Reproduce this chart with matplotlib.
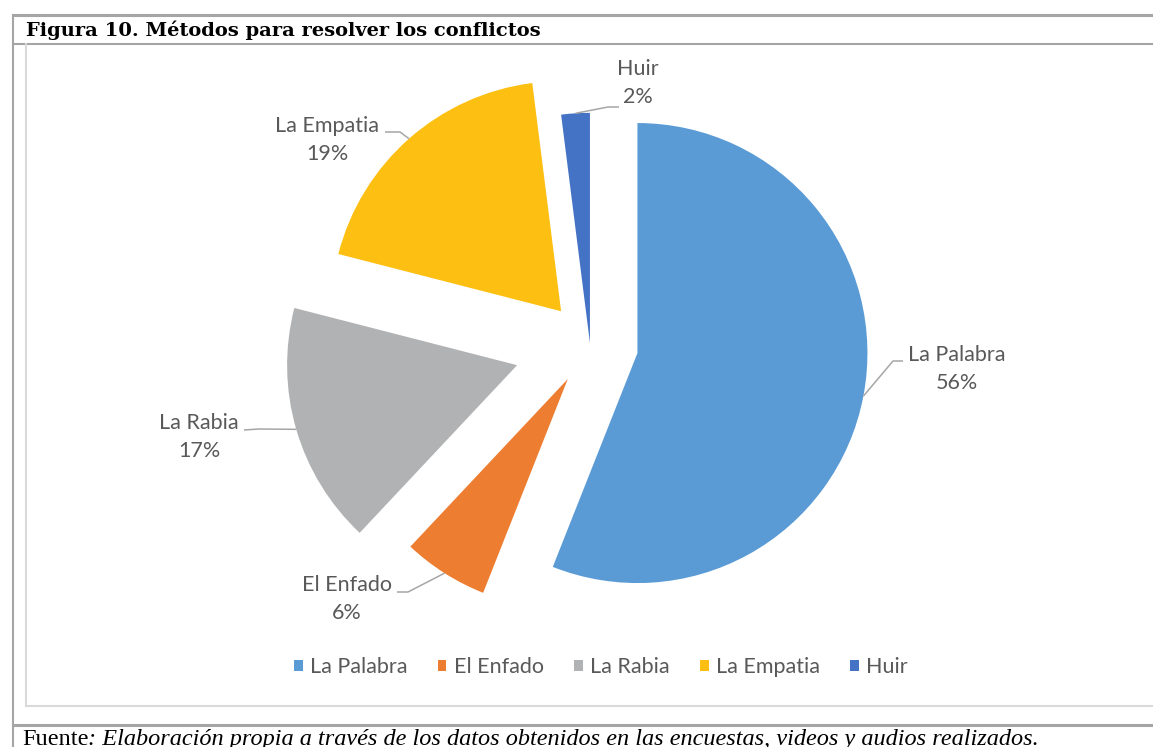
import matplotlib
matplotlib.use("Agg")
import matplotlib.pyplot as plt
import numpy as np

# ---- data ----
categories = ["La Palabra", "El Enfado", "La Rabia", "La Empatia", "Huir"]
percentages = [56, 6, 17, 19, 2]
colors = ["#5B9BD5", "#ED7D31", "#B1B2B3", "#FCBF12", "#4472C4"]
title = "Figura 10. Métodos para resolver los conflictos"
source_lead = "Fuente"
source_text = ": Elaboración propia a través de los datos obtenidos en las encuestas, videos y audios realizados."

# ---- layout (pixel coordinates, y measured from top) ----
W, H = 1153, 747
explode_frac = [0.21, 0.18, 0.33, 0.19, 0.005]
pie_center_px = (590, 344)
pie_radius_px = 230
# label text centres and leader-line end points (pixel, from top)
label_pos = [(957, 369), (347, 599), (199, 437), (327, 140), (638, 83)]
leader_end = [(903, 361), (397, 592), (244, 430), (385, 132), (619, 107)]
leader_elbow = [(893, 361), (408, 592), (259, 429), (400, 132), (608, 107)]

def P(x, y):
    return (x, H - y)

fig = plt.figure(figsize=(W / 100, H / 100), dpi=100)
ax = fig.add_axes([0, 0, 1, 1])

LABEL_FONT = "Lato"
TXT = "#595959"
FS = 15.5

wedges, _ = ax.pie(percentages, colors=colors, startangle=90, counterclock=False,
                   explode=[e * pie_radius_px for e in explode_frac],
                   center=P(*pie_center_px), radius=pie_radius_px,
                   wedgeprops=dict(linewidth=0), frame=True)
ax.set_xlim(0, W)
ax.set_ylim(0, H)
ax.set_aspect("equal", adjustable="box")
ax.axis("off")

# data labels and leader lines
for w, cat, pct, lp, le, lb in zip(wedges, categories, percentages, label_pos, leader_end, leader_elbow):
    mid = np.deg2rad((w.theta1 + w.theta2) / 2)
    cx, cy = w.center
    sx, sy = cx + w.r * np.cos(mid), cy + w.r * np.sin(mid)
    ex, ey = P(*le)
    bx, by = P(*lb)
    ax.plot([sx, bx, ex], [sy, by, ey], color="#A6A6A6", lw=1.1, solid_capstyle="butt")
    ax.text(*P(*lp), f"{cat}\n{pct}%", ha="center", va="center", color=TXT,
            fontsize=FS, family=LABEL_FONT, linespacing=1.45)

# legend
leg = ax.legend(wedges, categories, loc="center", bbox_to_anchor=P(601, 667),
                bbox_transform=ax.transData, ncol=5, frameon=False,
                prop=dict(family=LABEL_FONT, size=FS), labelcolor=TXT,
                handlelength=0.4, handleheight=0.4, handletextpad=0.35,
                columnspacing=1.4)

# frame lines
dark = "#A5A5A5"
light = "#D9D9D9"
ax.plot([12.5, W], [H - 15, H - 15], color=dark, lw=2.2)
ax.plot([12.5, 12.5], [H - 15, 0], color=dark, lw=1.5)
ax.plot([12.5, W], [H - 43.5, H - 43.5], color=dark, lw=1.5)
ax.plot([26, 26], [H - 44, H - 706], color=light, lw=1.5)
ax.plot([26, W], [H - 706, H - 706], color=light, lw=1.5)
ax.plot([12.5, W], [H - 724.5, H - 724.5], color=dark, lw=2.2)

# title
ax.text(*P(26, 30), title, ha="left", va="center", fontsize=14, fontweight="bold",
        family="DejaVu Serif", color="#000000")

# source
t1 = ax.text(*P(22, 745), source_lead, ha="left", va="baseline", fontsize=17.5,
             family="Liberation Serif", color="#000000")
ax.annotate(source_text, xy=(1, 0), xycoords=t1, ha="left", va="bottom",
            fontsize=17.5, family="Liberation Serif", style="italic", color="#000000")

fig.savefig("out.png", dpi=100)
